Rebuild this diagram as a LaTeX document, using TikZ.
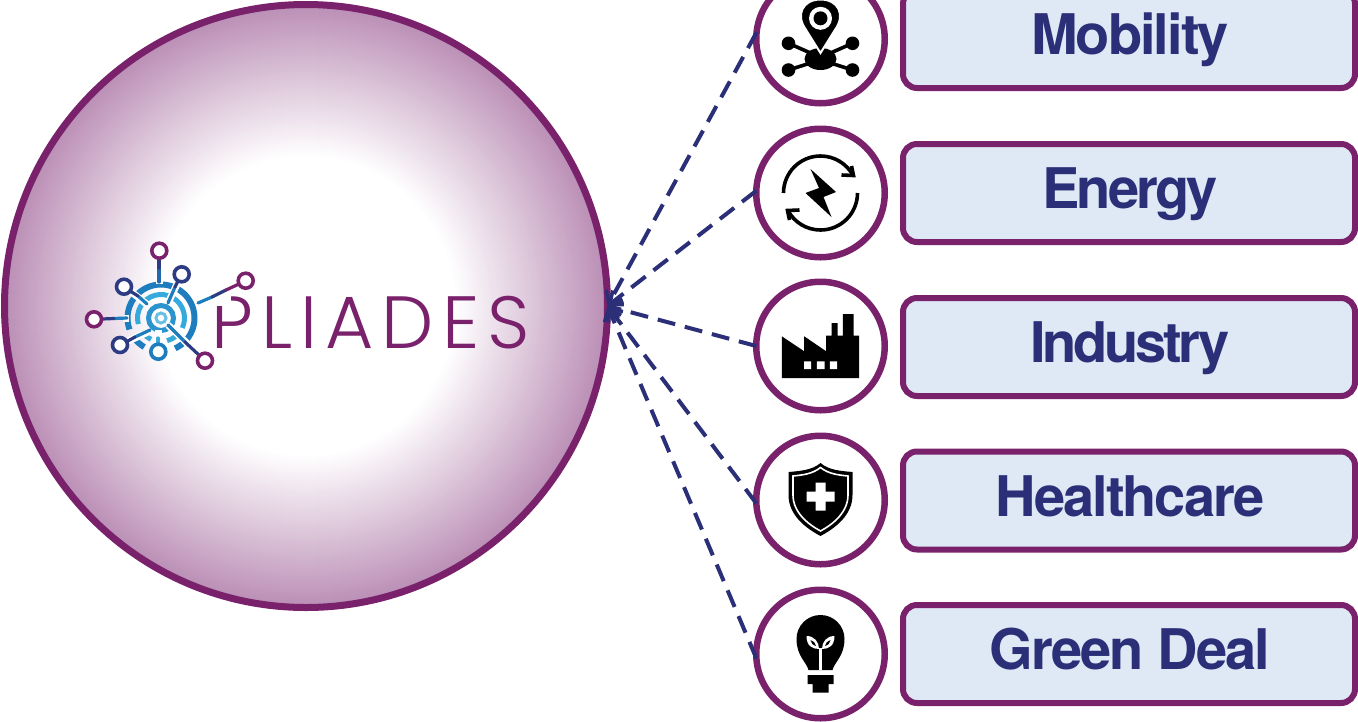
\documentclass[tikz,border=0pt]{standalone}
\usepackage{fontspec}
\usetikzlibrary{arrows.meta}
\newfontfamily\labfont[LetterSpace=-3.5]{TeX Gyre Heros}
\newfontfamily\labfontb[LetterSpace=-5.3]{TeX Gyre Heros}
\newfontfamily\labfontc[LetterSpace=-6]{TeX Gyre Heros}
\newfontfamily\logofont[LetterSpace=11]{Poppins Light}
\definecolor{plum}{RGB}{122,33,108}
\definecolor{navy}{RGB}{43,47,119}
\definecolor{boxfill}{RGB}{222,233,245}
\definecolor{cyanb}{RGB}{55,170,220}
\definecolor{midb}{RGB}{30,125,190}
\definecolor{deepb}{RGB}{45,60,130}
\definecolor{hubedge}{RGB}{187,143,182}
\tikzset{
  hubnode/.style={circle,draw=plum,line width=7pt,minimum size=603pt,inner sep=0pt,outer sep=0pt},
  iconring/.style={circle,draw=plum,line width=6.5pt,fill=white,minimum size=128.5pt,inner sep=0pt,outer sep=0pt},
  labelbox/.style={draw=plum,line width=6pt,fill=boxfill,rounded corners=14pt,minimum width=452pt,minimum height=98pt,inner sep=0pt,outer sep=0pt},
  labeltext/.style={font=\labfont\bfseries\fontsize{56}{56}\selectfont,text=navy,anchor=base,inner sep=0pt},
  link/.style={navy,line width=4pt,dash pattern=on 18pt off 10pt,-{Straight Barb[length=11pt,width=18pt,line width=3.5pt]}},
  lnk/.style={line width=3.2pt,line cap=round},
  halo/.style={white,line width=7pt},
  dotring/.style={line width=3.6pt,fill=white},
}
\begin{document}
\begin{tikzpicture}[x=1pt,y=-1pt]
\useasboundingbox (0,0) rectangle (1358,721);
\fill[white] (0,0) rectangle (1358,721);
\foreach \r in {301,300,...,150}{
  \pgfmathsetmacro\p{(\r-150)/1.51}
  \fill[hubedge!\p!white] (306,306) circle (\r pt);
}
\node[hubnode] (hub) at (306,306) {};
% logo
\begin{scope}[shift={(161,318)}]
  \draw[midb,line width=6pt] (0,0) ++(200:33.5pt) arc (200:-65:33.5pt);
  \draw[midb,line width=6pt] (0,0) ++(215:33.5pt) arc (215:240:33.5pt);
  \draw[midb,line width=6pt] (0,0) ++(262:33.5pt) arc (262:280:33.5pt);
  \draw[cyanb,line width=5pt] (0,0) ++(195:23.5pt) arc (195:-25:23.5pt);
  \draw[cyanb,line width=5pt] (0,0) ++(215:23.5pt) arc (215:245:23.5pt);
  \draw[cyanb,line width=5pt] (0,0) ++(285:23.5pt) arc (285:310:23.5pt);
  \draw[midb!50!cyanb,line width=5pt] (0,0) circle (12.5pt);
  \draw[cyanb!75!white,line width=3pt] (0,0) circle (5pt);
\end{scope}
\draw[halo] (159,256)--(159,284);
\draw[halo] (168,303)--(179,280);
\draw[halo] (149,306)--(129,290);
\draw[halo] (129,318)--(124,318);
\draw[halo] (148,332)--(126,342);
\draw[halo] (158,330)--(158,345);
\draw[halo] (168,325)--(195,351);
\draw[lnk,midb!70!deepb] (159,282)--(159,268);
\draw[lnk,deepb] (159,268)--(159,258);
\draw[lnk,midb] (168,303)--(175,287);
\draw[lnk,deepb] (175,287)--(178,281);
\draw[lnk,midb] (147,304)--(138,296);
\draw[lnk,deepb] (138,296)--(130,291);
\draw[lnk,midb] (127,318)--(114,318.5);
\draw[lnk,deepb] (114,318.5)--(102,319);
\draw[lnk,midb] (150,330)--(135,337);
\draw[lnk,deepb] (135,337)--(126,342);
\draw[lnk,cyanb] (158,338)--(158,345);
\draw[lnk,midb] (168,325)--(185,342);
\draw[lnk,deepb] (185,342)--(200,356);
\node[font=\logofont\fontsize{74}{74}\selectfont,text=plum,anchor=base west,inner sep=0pt] (logoword) at (211,348) {PLIADES};
\fill[white] (211,288) rectangle (231,306);
\draw[lnk,midb] (198,303)--(212,297);
\draw[lnk,deepb] (212,297)--(226,290);
\draw[lnk,plum] (226,290)--(239,284);
\draw[plum,dotring] (159.3,250.7) circle (7.5pt);
\draw[deepb,dotring] (181.7,274.3) circle (7.5pt);
\draw[plum,dotring] (245.7,280.7) circle (7.5pt);
\draw[deepb,dotring] (124,286.7) circle (7.5pt);
\draw[plum,dotring] (94,319.3) circle (7.5pt);
\draw[deepb,dotring] (120,345) circle (7.5pt);
\draw[midb,dotring] (158.3,351.7) circle (7.5pt);
\draw[plum,dotring] (205,360.7) circle (7.5pt);
% icon rings
\node[iconring] (i1) at (820.5,39) {};
\node[iconring] (i2) at (820.5,193) {};
\node[iconring] (i3) at (820.5,346) {};
\node[iconring] (i4) at (820.5,500) {};
\node[iconring] (i5) at (820.5,654) {};
% links
\draw[link] (i1.174)--(hub.east);
\draw[link] (i2.178)--(hub.east);
\draw[link] (i3.west)--(hub.east);
\draw[link] (i4.183)--(hub.east);
\draw[link] (i5.184)--(hub.east);
% boxes
\node[labelbox] (b1) at (1129,39) {};
\node[labelbox] (b2) at (1129,193) {};
\node[labelbox] (b3) at (1129,347) {};
\node[labelbox] (b4) at (1129,500.5) {};
\node[labelbox] (b5) at (1129,654) {};
\node[labeltext] (t1) at (1130,54) {Mobility};
\node[labeltext,font=\labfontb\bfseries\fontsize{56}{56}\selectfont] (t2) at (1130,208) {Energy};
\node[labeltext,font=\labfontc\bfseries\fontsize{56}{56}\selectfont] (t3) at (1130,362) {Industry};
\node[labeltext] (t4) at (1130,516) {Healthcare};
\node[labeltext] (t5) at (1130,669) {Green Deal};
% mobility icon
\begin{scope}[shift={(820.5,39)}]
  \fill (0,20) ellipse (16pt and 11pt);
  \draw[line width=3.6pt] (-32,4.3)--(-10,14) (32,4.3)--(10,14) (-32,31)--(-10,24) (32,31)--(10,24);
  \fill (-32,4.3) circle (6.8pt) (32,4.3) circle (6.8pt) (-32,31) circle (6.8pt) (32,31) circle (6.8pt);
  \draw[white,line width=2pt,fill=black] (0,14) -- (-15,-10) .. controls (-25,-24) and (-18,-39.5) .. (0,-39.5) .. controls (18,-39.5) and (25,-24) .. (15,-10) -- cycle;
  \fill[white] (0,-20.7) circle (11.5pt);
  \fill (0,-20.7) circle (7pt);
\end{scope}
% energy icon
\begin{scope}[shift={(820.5,193)}]
  \draw[line width=3.6pt] (-37,0) arc (180:28:37pt);
  \draw[line width=3.6pt] (37,0) arc (0:-152:37pt);
  \draw[line width=3.6pt,line join=miter] (21,-18)--(33,-17.5)--(31,-27);
  \draw[line width=3.6pt,line join=miter] (-21,17)--(-33,17.5)--(-31,27);
  \fill (-10,-24)--(15.5,-1)--(3,4)--(11,24)--(-15,0)--(-1.5,-5)--cycle;
\end{scope}
% factory icon
\begin{scope}[shift={(820.5,346)}]
  \fill (-38.7,-9.7)--(-16.3,5.3)--(-16.3,-9.7)--(5.7,5.3)--(5.7,-10.3)--(11,-10.3)--(11,-23)--(17,-23)--(17,-10.3)--(22.3,-10.3)--(22.3,-32)--(33,-32)--(33,-10.3)--(38.7,-10.3)--(38.7,32)--(-38.7,32)--cycle;
  \fill[white] (-16.3,15.3) rectangle (-9.3,23) (-3.7,15.3) rectangle (4,23) (9.3,15.3) rectangle (16.7,23);
\end{scope}
% shield icon
\begin{scope}[shift={(820.5,500)}]
  \fill (0,-37) .. controls (-8,-30) and (-20,-29) .. (-32,-28) -- (-32,-5) .. controls (-32,15) and (-15,28) .. (0,36) .. controls (15,28) and (32,15) .. (32,-5) -- (32,-28) .. controls (20,-29) and (8,-30) .. (0,-37) -- cycle;
  \draw[white,line width=1.6pt] (0,-32.5) .. controls (-8,-26) and (-18,-25) .. (-27.5,-24) -- (-27.5,-5) .. controls (-27.5,12) and (-13,24) .. (0,31) .. controls (13,24) and (27.5,12) .. (27.5,-5) -- (27.5,-24) .. controls (18,-25) and (8,-26) .. (0,-32.5) -- cycle;
  \fill[white] (-5,-17.5) rectangle (5,10.5) (-14,-8.5) rectangle (14,1.5);
\end{scope}
% bulb icon
\begin{scope}[shift={(820.5,654)}]
  \fill (-12,16) .. controls (-14,8) and (-24,2) .. (-24,-15) arc (180:0:24pt) .. controls (24,2) and (14,8) .. (12,16) -- cycle;
  \fill (-13,21) rectangle (13,30) (-8,30) rectangle (8,38.5);
  \draw[white,line width=2.2pt] (0,16)--(0,-6);
  \fill[white] (-1.5,-5) .. controls (-8,-5) and (-14,-8) .. (-14,-18) .. controls (-6,-18) and (-1.5,-12) .. (-1.5,-5) -- cycle;
  \fill[white] (1.5,-5) .. controls (8,-5) and (14,-8) .. (14,-18) .. controls (6,-18) and (1.5,-12) .. (1.5,-5) -- cycle;
  \fill (-4.5,-8) .. controls (-8,-9) and (-9.5,-11) .. (-10,-14) .. controls (-7,-13) and (-5,-11) .. (-4.5,-8) -- cycle;
  \fill (4.5,-8) .. controls (8,-9) and (9.5,-11) .. (10,-14) .. controls (7,-13) and (5,-11) .. (4.5,-8) -- cycle;
\end{scope}
\end{tikzpicture}
\end{document}
